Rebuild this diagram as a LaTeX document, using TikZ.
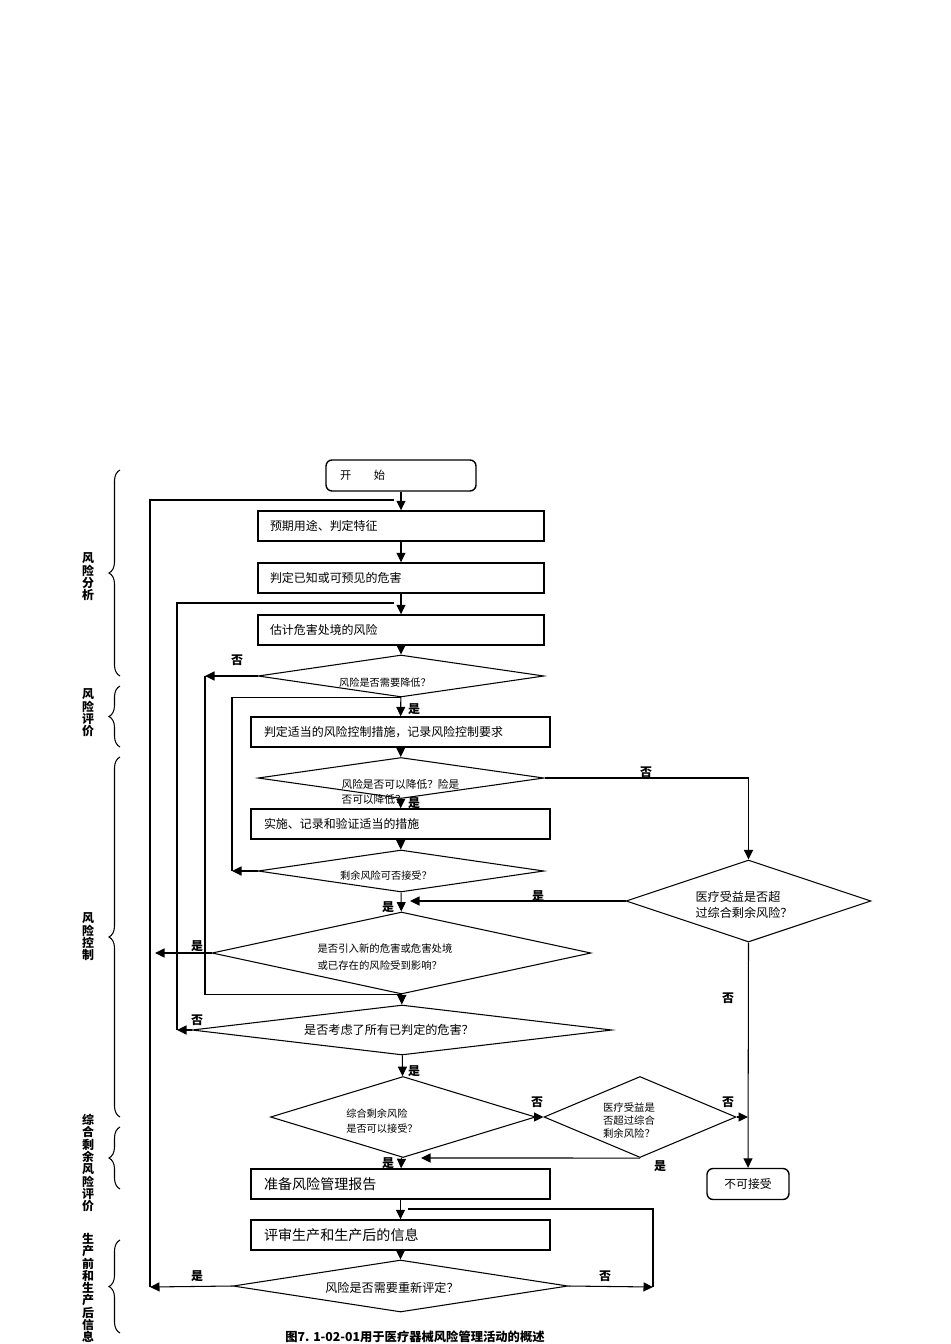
\documentclass[tikz,border=0pt]{standalone}
\usepackage{fontspec}
\setmainfont{Noto Sans CJK SC}
\usetikzlibrary{shapes.geometric}
\usetikzlibrary{arrows.meta}
\usetikzlibrary{decorations.pathreplacing}

\begin{document}
\begin{tikzpicture}[x=0.02cm,y=-0.02cm,line width=0.6pt,
  box/.style={draw,line width=0.8pt,minimum width=5.72cm,minimum height=0.6cm,inner xsep=0.24cm,text width=5.24cm,align=left,font=\fontsize{6.8}{7.5}\selectfont},
  wbox/.style={box,minimum width=5.98cm,inner xsep=0.26cm,text width=5.46cm},
  bigbox/.style={wbox,font=\fontsize{8}{9}\selectfont},
  rbox/.style={draw,line width=0.8pt,rounded corners=0.12cm,minimum height=0.62cm,font=\fontsize{6.4}{7}\selectfont},
  dia/.style={draw,shape=diamond,inner sep=0pt},
  small/.style={font=\fontsize{5.8}{8.5}\selectfont,align=left,inner sep=0pt},
  mid/.style={font=\fontsize{6.9}{9}\selectfont,align=left,inner sep=0pt},
  yn/.style={font=\bfseries\fontsize{6.8}{7}\selectfont,inner sep=0pt},
  side/.style={font=\bfseries\fontsize{6.8}{7}\selectfont,align=center,inner sep=0pt},
  brc/.style={decorate,decoration={brace,amplitude=0.22cm}},
  arr/.style={-{Triangle[length=1.9mm,width=1.8mm]}}]
\path[use as bounding box] (0,0) rectangle (950,1344);

\node[rbox,minimum width=3cm,inner xsep=0.28cm,text width=2.44cm,align=left] (start) at (401,475.5) {开\hspace{2em}始};
\node[box] (b1) at (401,526) {预期用途、判定特征};
\node[box] (b2) at (401,578) {判定已知或可预见的危害};
\node[box] (b3) at (401,630) {估计危害处境的风险};
\node[dia,minimum width=5.72cm,minimum height=0.84cm] (d1) at (401,676) {};
\node[small] (t1) at (385,683) {风险是否需要降低？};
\node[wbox] (b4) at (400.5,732) {判定适当的风险控制措施，记录风险控制要求};
\node[dia,minimum width=5.72cm,minimum height=0.82cm] (d2) at (401,778) {};
\node[small,anchor=west,font=\fontsize{6.1}{8.5}\selectfont] (t2) at (341,792) {风险是否可以降低？险是\\否可以降低？};
\node[wbox] (b5) at (400.5,824) {实施、记录和验证适当的措施};
\node[dia,minimum width=5.72cm,minimum height=0.84cm] (d3) at (401,871) {};
\node[small] (t3) at (386,876) {剩余风险可否接受？};
\node[dia,minimum width=4.9cm,minimum height=1.64cm] (d4) at (748.5,901) {};
\node[mid] (t4) at (744,905) {医疗受益是否超\\过综合剩余风险？};
\node[dia,minimum width=7.58cm,minimum height=1.64cm] (d6) at (401.5,953) {};
\node[small,font=\fontsize{5.9}{10}\selectfont] (t6) at (385,957) {是否引入新的危害或危害处境\\或已存在的风险受到影响？};
\node[dia,minimum width=8.4cm,minimum height=1cm] (d7) at (402,1030) {};
\node[mid] (t7) at (389,1030) {是否考虑了所有已判定的危害？};
\node[dia,minimum width=5.3cm,minimum height=1.62cm] (d8) at (403,1117) {};
\node[small,font=\fontsize{5.8}{9}\selectfont] (t8) at (382,1121) {综合剩余风险\\是否可以接受？};
\node[dia,minimum width=3.84cm,minimum height=1.62cm] (d9) at (640,1117) {};
\node[small,font=\fontsize{5.9}{7.4}\selectfont] (t9) at (629,1121) {医疗受益是\\否超过综合\\剩余风险？};
\node[rbox,minimum width=1.64cm,font=\fontsize{6.7}{7}\selectfont] (nogo) at (748,1184) {不可接受};
\node[bigbox] (b6) at (400.5,1184) {准备风险管理报告};
\node[bigbox] (b7) at (400.5,1235) {评审生产和生产后的信息};
\node[dia,minimum width=6.7cm,minimum height=1.04cm] (d10) at (400.5,1286) {};
\node[mid] (t10) at (392,1288) {风险是否需要重新评定？};

\coordinate (ra) at (150,1287);
\coordinate (rae) at (394,500);
\coordinate (rb) at (177,1030);
\coordinate (rbe) at (394,603);
\coordinate (rc) at (205,676);
\coordinate (rd) at (232,871);
\coordinate (re) at (653,1287);
\coordinate (ree) at (408,1209);
\coordinate (yd4) at (410,901);
\coordinate (yd6) at (155,953);
\coordinate (yd9) at (421,1158);

\draw[arr] (start) -- (b1);
\draw[arr] (b1) -- (b2);
\draw[arr] (b2) -- (b3);
\draw[arr] (b3) -- (d1);
\draw[arr] (d1) -- (b4);
\draw[arr] (b4) -- (d2);
\draw[arr] (d2) -- (b5);
\draw[arr] (b5) -- (d3);
\draw[arr] (d3) -- (d6);
\draw[arr] (d6) -- (d7);
\draw[arr] (d7) -- (d8);
\draw[arr] (d8) -- (b6);
\draw[arr] (b6) -- (b7);
\draw[arr] (b7) -- (d10);
\draw[arr] (d8.east) -- (d9.west);
\draw[arr] (d2.east) -| (d4.north);
\draw[arr] (d4.south) -- (nogo.north);
\draw[arr] (d9.east) -- (d9.east -| nogo.north);
\draw[arr] (d4.west) -- (yd4);
\draw[arr] (d6.west) -- (yd6);
\draw[arr] (d9.south) -- (yd9);
\draw[arr] (d10.west) -- (ra);
\draw (ra) |- (rae);
\draw[arr] (d7.west) -- (rb);
\draw (rb) |- (rbe);
\draw[arr] (d1.west) -- (rc);
\draw (rc) |- (d6.south);
\draw[arr] (d3.west) -- (rd);
\draw (rd) |- (d1.south);
\draw[arr] (d10.east) -- (re);
\draw (re) |- (ree);

\node[yn] (n1) at (237,660) {否};
\node[yn] (y1) at (414,709) {是};
\node[yn] (n2) at (646,772) {否};
\node[yn] (y2) at (414,803) {是};
\node[yn] (y3) at (538,896) {是};
\node[yn] (y4) at (388,907) {是};
\node[yn] (y5) at (197,946) {是};
\node[yn] (n3) at (728,998) {否};
\node[yn] (n4) at (197,1020) {否};
\node[yn] (y6) at (414,1071) {是};
\node[yn] (n5) at (537,1102) {否};
\node[yn] (n6) at (728,1102) {否};
\node[yn] (y7) at (388,1163) {是};
\node[yn] (y8) at (660,1166) {是};
\node[yn] (y9) at (197,1276) {是};
\node[yn] (n7) at (605,1276) {否};

\draw[brc] (120,676) -- (120,470);
\draw[brc] (120,747) -- (120,686);
\draw[brc] (120,1117) -- (120,757);
\draw[brc] (120,1189) -- (120,1127);
\draw[brc] (120,1333) -- (120,1240);
\node[side] (s1) at (88,577) {风\\险\\分\\析};
\node[side] (s2) at (88,713) {风\\险\\评\\价};
\node[side] (s3) at (88,937) {风\\险\\控\\制};
\node[side] (s4) at (88,1163) {综\\合\\剩\\余\\风\\险\\评\\价};
\node[side] (s5) at (88,1288) {生\\产\\前\\和\\生\\产\\后\\信\\息};

\node[yn,font=\bfseries\fontsize{7}{8}\selectfont] (cap) at (415,1337) {图7. 1-02-01用于医疗器械风险管理活动的概述};
\end{tikzpicture}
\end{document}
